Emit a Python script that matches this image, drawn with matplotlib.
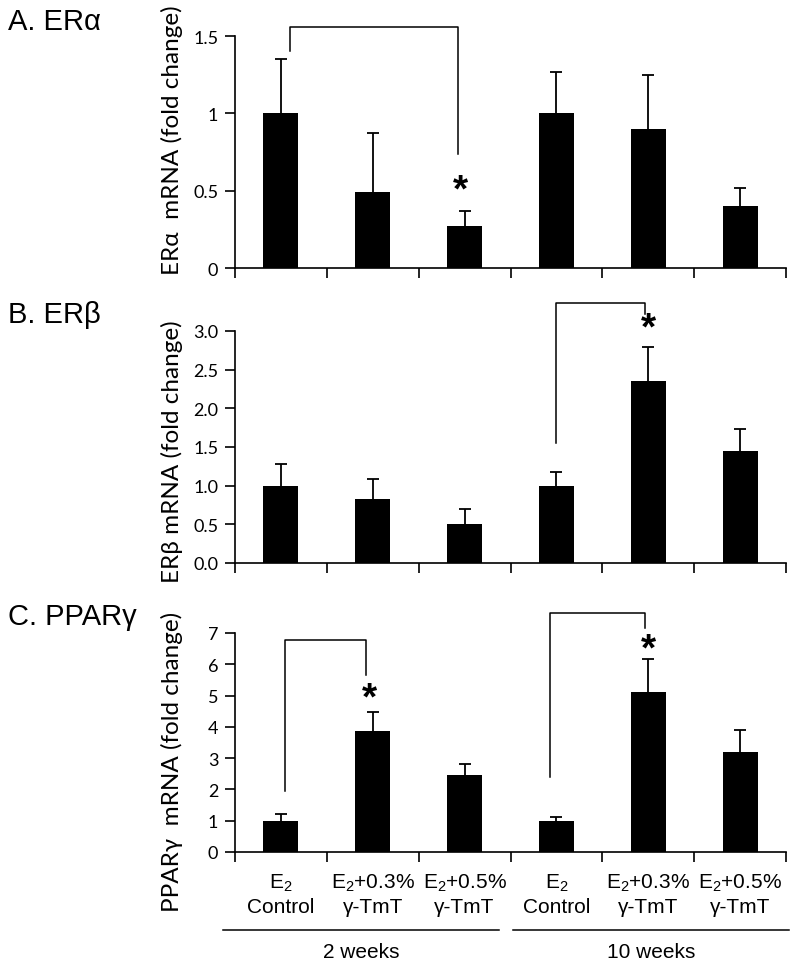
import matplotlib
matplotlib.use("Agg")
import matplotlib.pyplot as plt
from matplotlib.transforms import blended_transform_factory
from matplotlib.lines import Line2D

plt.rcParams['font.family'] = ['Liberation Sans', 'DejaVu Sans']
plt.rcParams['mathtext.fontset'] = 'custom'
plt.rcParams['mathtext.rm'] = 'Liberation Sans'
plt.rcParams['mathtext.it'] = 'Liberation Sans:italic'

# ---------------- data ----------------
categories = ["E$_2$\nControl", "E$_2$+0.3%\nγ-TmT", "E$_2$+0.5%\nγ-TmT",
              "E$_2$\nControl", "E$_2$+0.3%\nγ-TmT", "E$_2$+0.5%\nγ-TmT"]
groups = ["2 weeks", "10 weeks"]

era_mean = [1.00, 0.49, 0.27, 1.00, 0.90, 0.40]
era_err = [0.35, 0.38, 0.10, 0.27, 0.35, 0.12]

erb_mean = [1.00, 0.83, 0.51, 1.00, 2.35, 1.45]
erb_err = [0.28, 0.26, 0.19, 0.18, 0.44, 0.28]

ppar_mean = [1.00, 3.88, 2.46, 1.00, 5.10, 3.19]
ppar_err = [0.21, 0.60, 0.34, 0.13, 1.08, 0.72]

panel_titles = ["A. ERα", "B. ERβ", "C. PPARγ"]
ylabels = ["ERα  mRNA (fold change)", "ERβ mRNA (fold change)", "PPARγ  mRNA (fold change)"]
yticks_a = [0, 0.5, 1, 1.5]
yticklabels_a = ["0", "0.5", "1", "1.5"]
yticks_b = [0.0, 0.5, 1.0, 1.5, 2.0, 2.5, 3.0]
yticklabels_b = ["0.0", "0.5", "1.0", "1.5", "2.0", "2.5", "3.0"]
yticks_c = [0, 1, 2, 3, 4, 5, 6, 7]
yticklabels_c = ["0", "1", "2", "3", "4", "5", "6", "7"]

# brackets: (x_left, x_right, y_top, y_left_end, y_right_end, star_y)
brackets_a = [(0.10, 1.93, 1.56, 1.40, 0.74, 0.50)]
brackets_b = [(3.00, 3.97, 3.36, 1.55, 3.22, 3.03)]
brackets_c = [(0.04, 0.93, 6.77, 1.95, 5.65, 4.92),
              (2.93, 3.97, 7.64, 2.40, 7.16, 6.47)]

# ---------------- figure ----------------
W, H = 800, 970
fig = plt.figure(figsize=(W / 100, H / 100), dpi=100)

def fx(px):
    return px / W

def fy(py):
    return 1 - py / H

left_px, right_px = 235, 786
panels = [
    dict(top=37, bottom=269, mean=era_mean, err=era_err, ylim=1.5,
         yt=yticks_a, ytl=yticklabels_a, br=brackets_a, title_y=22, ylab_y=140),
    dict(top=332, bottom=564, mean=erb_mean, err=erb_err, ylim=3.0,
         yt=yticks_b, ytl=yticklabels_b, br=brackets_b, title_y=315, ylab_y=452),
    dict(top=634, bottom=853, mean=ppar_mean, err=ppar_err, ylim=7.0,
         yt=yticks_c, ytl=yticklabels_c, br=brackets_c, title_y=617, ylab_y=762),
]

x = list(range(len(categories)))
axes = []
for i, p in enumerate(panels):
    ax = fig.add_axes([fx(left_px), fy(p['bottom']), fx(right_px - left_px),
                       (p['bottom'] - p['top']) / H])
    axes.append(ax)
    ax.bar(x, p['mean'], width=0.38, color='black', zorder=2)
    eb = ax.errorbar(x, p['mean'], yerr=[[0] * len(x), p['err']], fmt='none',
                     ecolor='black', elinewidth=1.3, capsize=4.5, capthick=1.3,
                     zorder=1)
    # keep only the upper caps
    eb[1][0].set_visible(False)
    ax.set_xlim(-0.5, 5.5)
    ax.set_ylim(0, p['ylim'])
    ax.set_yticks(p['yt'])
    ax.set_yticklabels(p['ytl'], fontfamily='Lato', fontsize=13)
    ax.set_xticks([k - 0.5 for k in range(len(x) + 1)])
    ax.set_xticklabels([])
    ax.tick_params(axis='both', direction='out', length=7, width=1.2, color='black')
    ax.tick_params(axis='y', pad=5)
    for s in ['top', 'right']:
        ax.spines[s].set_visible(False)
    for s in ['left', 'bottom']:
        ax.spines[s].set_linewidth(1.2)
    # brackets
    for (xl, xr, yt, yle, yre, sy) in p['br']:
        ax.plot([xl, xl, xr, xr], [yle, yt, yt, yre], color='black', lw=1.1,
                clip_on=False, zorder=3)
        ax.text(xr + 0.03, sy, "*", ha='center', va='center', fontsize=28,
                fontweight='bold', zorder=4)
    # panel title
    fig.text(fx(8), fy(p['title_y']), panel_titles[i], fontsize=21,
             ha='left', va='center')
    # y label
    fig.text(fx(172), fy(p['ylab_y']), ylabels[i], rotation=90, fontsize=17.5,
             fontfamily='Lato', ha='center', va='center')

# category labels under the bottom panel
axc = axes[2]
trans = blended_transform_factory(axc.transData, fig.transFigure)
for k, lab in enumerate(categories):
    axc.text(k, fy(895), lab, transform=trans, ha='center', va='center',
             fontsize=15, linespacing=1.25)

# group lines and labels (in data x coordinates of categories)
group_spans = [(-0.63, 2.37), (2.53, 5.53)]
for (g0, g1), name in zip(group_spans, groups):
    axc.add_line(Line2D([g0, g1], [fy(931), fy(931)], transform=trans,
                        color='black', lw=1.1, clip_on=False))
    axc.text((g0 + g1) / 2, fy(953), name, transform=trans, ha='center',
             va='center', fontsize=15)

fig.savefig("out.png", dpi=100)
